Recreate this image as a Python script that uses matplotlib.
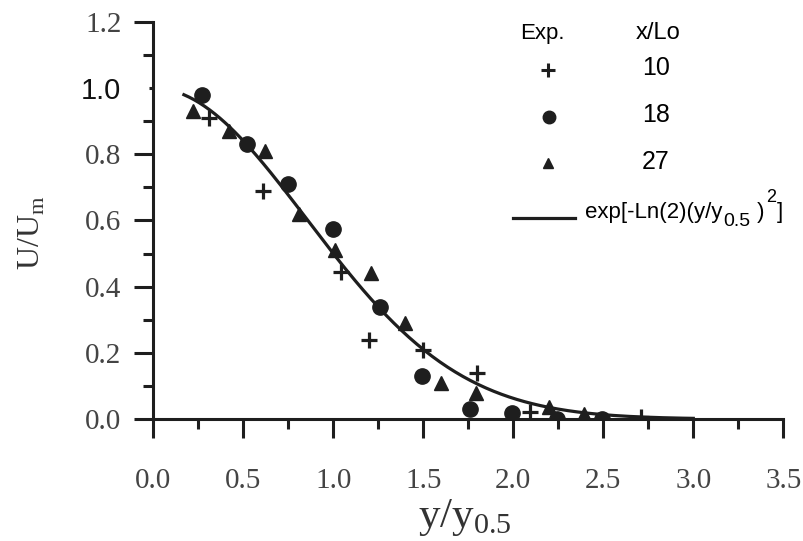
import numpy as np
import matplotlib
matplotlib.use('Agg')
import matplotlib.pyplot as plt
from matplotlib.ticker import MultipleLocator

# data
x10 = [0.31, 0.61, 1.04, 1.20, 1.50, 1.80, 2.09, 2.71]
u10 = [0.91, 0.69, 0.445, 0.24, 0.21, 0.14, 0.022, 0.005]

x18 = [0.27, 0.52, 0.75, 1.00, 1.26, 1.49, 1.76, 1.99, 2.24, 2.49]
u18 = [0.98, 0.83, 0.71, 0.575, 0.34, 0.13, 0.03, 0.017, 0.0, 0.0]

x27 = [0.22, 0.42, 0.62, 0.81, 1.01, 1.21, 1.40, 1.60, 1.79, 2.20, 2.39]
u27 = [0.93, 0.87, 0.81, 0.62, 0.51, 0.44, 0.29, 0.11, 0.08, 0.037, 0.015]

xticks = [0.0, 0.5, 1.0, 1.5, 2.0, 2.5, 3.0, 3.5]
yticks = [0.0, 0.2, 0.4, 0.6, 0.8, 1.0, 1.2]

# gaussian fit shown in the legend
xf = np.linspace(0.17, 3.0, 200)
uf = np.exp(-np.log(2) * xf**2)

ink = '#1e1e1e'
serif = 'Liberation Serif'
sans = 'Liberation Sans'

fig = plt.figure(figsize=(8.04, 5.41), dpi=100)
ax = fig.add_axes([153.3/804, 1 - 419/541, 630/804, 397/541])

ax.plot(xf, uf, color=ink, lw=2.3, zorder=2)
ax.plot(x10, u10, ls='none', marker='+', ms=12, mew=2.3, color=ink, zorder=3)
ax.plot(x18, u18, ls='none', marker='o', ms=11, color=ink, zorder=3)
ax.plot(x27, u27, ls='none', marker='^', ms=9.5, color=ink, zorder=3)

ax.set_xlim(0, 3.5)
ax.set_ylim(0, 1.2)
for s in ['top', 'right']:
    ax.spines[s].set_visible(False)
for s in ['left', 'bottom']:
    ax.spines[s].set_linewidth(2.2)
    ax.spines[s].set_color(ink)
ax.patch.set_alpha(0)

ax.set_xticks(xticks)
ax.set_yticks(yticks)
ax.xaxis.set_minor_locator(MultipleLocator(0.25))
ax.yaxis.set_minor_locator(MultipleLocator(0.1))
ax.set_xticklabels([f'{v:.1f}' for v in xticks])
ax.set_yticklabels([f'{v:.1f}' for v in yticks])
ax.tick_params(which='major', length=14, width=2.2, color=ink, direction='out')
ax.tick_params(which='minor', length=7.5, width=2.2, color=ink, direction='out')
ax.tick_params(axis='x', which='major', pad=21)
ax.tick_params(axis='y', which='major', pad=9)
for lab in ax.get_xticklabels() + ax.get_yticklabels():
    lab.set_fontfamily(serif)
    lab.set_fontsize(21)
    lab.set_color('#444444')
# the 1.0 label is set in a sans face in the original
one = ax.get_yticklabels()[5]
one.set_fontfamily(sans)
one.set_color('#111111')
ax.yaxis.get_major_ticks()[5].tick1line.set_markersize(3)

ax.set_xlabel(r'y/y$_{\mathregular{0.5}}$', fontsize=31, family=serif, color='#333333')
ax.xaxis.label.set_verticalalignment('baseline')
ax.xaxis.set_label_coords(0.495, -0.272)
ax.set_ylabel(r'U/U$_{\mathregular{m}}$', fontsize=23, family=serif, color='#333333')
ax.yaxis.set_label_coords(-0.168, 0.47)

# legend drawn by hand
T = ax.transAxes
ax.text(0.618, 0.972, 'Exp.', transform=T, ha='center', va='center', fontsize=16, family=sans)
ax.text(0.802, 0.972, 'x/Lo', transform=T, ha='center', va='center', fontsize=17, family=sans)
ax.plot([0.626], [0.879], transform=T, marker='+', ms=10, mew=2.2, color=ink, clip_on=False)
ax.plot([0.628], [0.761], transform=T, marker='o', ms=9, color=ink, clip_on=False)
ax.plot([0.626], [0.645], transform=T, marker='^', ms=7.5, color=ink, clip_on=False)
for yy, lab in zip([0.884, 0.766, 0.647], ['10', '18', '27']):
    ax.text(0.798, yy, lab, transform=T, ha='center', va='center', fontsize=18, family=sans)
ax.plot([0.571, 0.669], [0.506, 0.506], transform=T, color=ink, lw=2.3, clip_on=False)

t1 = ax.text(0.685, 0.521, 'exp[-Ln(2)(y/y', transform=T, ha='left', va='center',
             fontsize=16, family=sans)
t2 = ax.annotate('0.5', xy=(1, 0), xycoords=t1, xytext=(1, 1), textcoords='offset points',
                 ha='left', va='center', fontsize=14, family=sans)
t3 = ax.annotate(' )', xy=(1, 0.5), xycoords=(t2, t1), ha='left', va='center',
                 fontsize=16, family=sans)
t4 = ax.annotate('2', xy=(1, 1), xycoords=(t3, t1), xytext=(1, 3), textcoords='offset points',
                 ha='left', va='center', fontsize=13, family=sans)
ax.annotate(']', xy=(1, 0.5), xycoords=(t4, t1), xytext=(1, 0), textcoords='offset points',
            ha='left', va='center', fontsize=16, family=sans)

fig.savefig('out.png', dpi=100)
